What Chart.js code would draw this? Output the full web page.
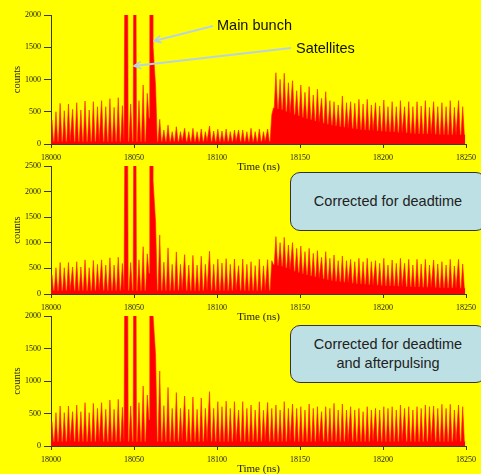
<!DOCTYPE html>
<html lang="en">
<head>
<meta charset="UTF-8">
<title>bunch purity</title>
<script src="https://cdn.jsdelivr.net/npm/chart.js@4.4.0/dist/chart.umd.min.js"></script>
<style>
  html, body { margin: 0; padding: 0; width: 481px; height: 474px; overflow: hidden; background: #ffff00; }
  canvas.panel { position: absolute; left: 0; }
  .note { position: absolute; font-family: 'Liberation Sans', Arial, sans-serif; font-size: 14.5px; color: #111; white-space: nowrap; line-height: 18px; }
  .box { position: absolute; left: 290px; width: 196px; background: #bde0e4; border: 1.5px solid #333; border-radius: 10px; box-sizing: border-box;
         display: flex; align-items: center; justify-content: center; text-align: center;
         font-family: 'Liberation Sans', Arial, sans-serif; font-size: 14.5px; color: #222; line-height: 19px; }
  svg { position: absolute; left: 0; top: 0; }
</style>
</head>
<body>
<canvas id="p1" class="panel" width="481" height="174" style="top:0px"></canvas>
<canvas id="p2" class="panel" width="481" height="174" style="top:150px"></canvas>
<canvas id="p3" class="panel" width="481" height="176" style="top:300px"></canvas>

<svg width="481" height="474">
  <defs>
    <marker id="ah" viewBox="0 0 10 10" refX="9" refY="5" markerWidth="9" markerHeight="9" markerUnits="userSpaceOnUse" orient="auto">
      <path d="M1,1 L9,5 L1,9" fill="none" stroke="#b8d4da" stroke-width="2"/>
    </marker>
  </defs>
  <line x1="213" y1="26" x2="154" y2="41" stroke="#b8d4da" stroke-width="2" marker-end="url(#ah)"/>
  <line x1="291" y1="48" x2="134" y2="66" stroke="#b8d4da" stroke-width="2" marker-end="url(#ah)"/>
</svg>
<div class="note" style="left:217px; top:16px">Main bunch</div>
<div class="note" style="left:296px; top:39px">Satellites</div>
<div class="box" style="top:172px; height:59px">Corrected for deadtime</div>
<div class="box" style="top:325px; height:58px">Corrected for deadtime<br>and afterpulsing</div>

<script>
// bunch arrival times (ns), one every RF bucket
const bunchTimes = [
  18000.5, 18003, 18005.5, 18008, 18010.5, 18013, 18015.5, 18018, 18020.5, 18023,
  18025.5, 18028, 18030.5, 18033, 18035.5, 18038, 18040.5, 18043, 18045.5, 18048,
  18050.5, 18053, 18055.5, 18058, 18060.5, 18063, 18065.5, 18068, 18070.5, 18073,
  18075.5, 18078, 18080.5, 18083, 18085.5, 18088, 18090.5, 18093, 18095.5, 18098,
  18100.5, 18103, 18105.5, 18108, 18110.5, 18113, 18115.5, 18118, 18120.5, 18123,
  18125.5, 18128, 18130.5, 18133, 18135.5, 18138, 18140.5, 18143, 18145.5, 18148,
  18150.5, 18153, 18155.5, 18158, 18160.5, 18163, 18165.5, 18168, 18170.5, 18173,
  18175.5, 18178, 18180.5, 18183, 18185.5, 18188, 18190.5, 18193, 18195.5, 18198,
  18200.5, 18203, 18205.5, 18208, 18210.5, 18213, 18215.5, 18218, 18220.5, 18223,
  18225.5, 18228, 18230.5, 18233, 18235.5, 18238, 18240.5, 18243, 18245.5, 18248
];

// raw histogram: peak counts per bucket and the floor right after it
const rawPeaks = [
  372, 500, 630, 516, 620, 537, 640, 527, 666, 527,
  656, 578, 672, 578, 703, 568, 718, 594, 8000, 620,
  8000, 672, 915, 785, 40000, 900, 382, 217, 294, 191,
  268, 191, 243, 191, 243, 191, 232, 191, 279, 201,
  227, 201, 232, 191, 217, 217, 217, 191, 243, 191,
  232, 191, 232, 450, 1105, 1003, 1096, 950, 981, 826,
  915, 801, 889, 760, 848, 708, 811, 672, 656, 605,
  744, 640, 656, 630, 692, 620, 692, 605, 640, 589,
  682, 578, 656, 578, 672, 578, 656, 579, 656, 589,
  672, 568, 656, 579, 640, 579, 672, 568, 672, 579
];
const rawValleys = [
  40, 40, 40, 40, 40, 40, 40, 40, 40, 40,
  40, 40, 40, 40, 40, 40, 40, 40, 40, 40,
  40, 40, 40, 400, 1500, 40, 40, 40, 40, 40,
  40, 40, 40, 40, 40, 40, 40, 40, 40, 40,
  40, 40, 40, 40, 40, 40, 40, 40, 40, 40,
  40, 40, 40, 560, 545, 530, 505, 475, 455, 435,
  415, 395, 375, 355, 338, 320, 305, 292, 280, 268,
  258, 248, 240, 232, 225, 218, 212, 206, 200, 196,
  192, 190, 185, 180, 176, 172, 168, 164, 160, 156,
  154, 152, 150, 148, 146, 145, 144, 142, 141, 140
];

// corrected for deadtime
const deadPeaks = [
  374, 513, 615, 513, 615, 528, 630, 528, 667, 513,
  656, 579, 667, 564, 707, 564, 718, 595, 9000, 615,
  9000, 667, 923, 784, 50000, 1400, 1153, 620, 900, 579,
  822, 579, 769, 564, 754, 564, 738, 579, 836, 579,
  682, 605, 690, 579, 682, 553, 682, 579, 631, 554,
  680, 550, 670, 650, 1120, 1003, 1107, 957, 1003, 892,
  937, 827, 892, 794, 846, 716, 827, 697, 762, 651,
  742, 651, 677, 631, 697, 631, 697, 631, 651, 599,
  697, 566, 664, 599, 697, 599, 677, 566, 677, 586,
  677, 566, 664, 586, 631, 566, 677, 547, 677, 586
];
const deadValleys = [
  70, 70, 70, 70, 70, 70, 70, 70, 70, 70,
  70, 70, 70, 70, 70, 70, 70, 70, 70, 70,
  70, 70, 70, 400, 2200, 70, 70, 70, 70, 70,
  70, 70, 70, 70, 70, 70, 70, 70, 70, 70,
  70, 70, 70, 70, 70, 70, 70, 70, 70, 70,
  70, 70, 70, 570, 560, 540, 510, 475, 445, 420,
  395, 372, 350, 330, 310, 292, 276, 262, 250, 240,
  230, 220, 210, 202, 195, 188, 182, 176, 171, 166,
  162, 158, 154, 150, 147, 144, 141, 138, 135, 132,
  130, 127, 125, 122, 120, 118, 116, 114, 112, 110
];

// corrected for deadtime and afterpulsing
const fullPeaks = [
  374, 513, 615, 513, 615, 528, 630, 528, 667, 513,
  656, 579, 667, 564, 707, 564, 718, 595, 9000, 615,
  9000, 667, 923, 784, 50000, 1400, 1153, 620, 900, 579,
  822, 579, 769, 564, 754, 564, 738, 579, 836, 579,
  682, 605, 690, 579, 682, 553, 682, 579, 631, 554,
  680, 550, 670, 579, 631, 554, 682, 579, 646, 579,
  605, 554, 646, 579, 605, 528, 605, 579, 656, 554,
  646, 554, 605, 554, 579, 528, 605, 554, 579, 554,
  605, 579, 605, 554, 631, 579, 605, 554, 605, 579,
  631, 605, 615, 579, 641, 579, 641, 554, 631, 605
];
const fullValleys = [
  70, 70, 70, 70, 70, 70, 70, 70, 70, 70,
  70, 70, 70, 70, 70, 70, 70, 70, 70, 70,
  70, 70, 70, 400, 2000, 70, 70, 70, 70, 70,
  70, 70, 70, 70, 70, 70, 70, 70, 70, 70,
  70, 70, 70, 70, 70, 70, 70, 70, 70, 70,
  70, 70, 70, 70, 70, 70, 70, 70, 70, 70,
  70, 70, 70, 70, 70, 70, 70, 70, 70, 70,
  70, 70, 70, 70, 70, 70, 70, 70, 70, 70,
  70, 70, 70, 70, 70, 70, 70, 70, 70, 70,
  70, 70, 70, 70, 70, 70, 70, 70, 70, 70
];

const timeTicks = [18000, 18050, 18100, 18150, 18200, 18250];
const countTicks2000 = [0, 500, 1000, 1500, 2000];
const countTicks2500 = [0, 500, 1000, 1500, 2000, 2500];

const axisColor = '#3a3a2a';
const serif = "'Liberation Serif', 'DejaVu Serif', serif";

// each bucket: peak, then a short floor before the next one
function trace(peaks, valleys) {
  const pts = [{ x: 18000, y: valleys[0] }];
  peaks.forEach((p, i) => {
    pts.push({ x: bunchTimes[i], y: p });
    pts.push({ x: bunchTimes[i] + 1.0, y: valleys[i] });
    pts.push({ x: bunchTimes[i] + 1.5, y: valleys[i] });
  });
  return pts;
}

function makePanel(id, peaks, valleys, yTicks, padTop, xHeight) {
  new Chart(document.getElementById(id), {
    type: 'line',
    data: {
      datasets: [{
        data: trace(peaks, valleys),
        borderColor: '#ff1a00',
        backgroundColor: '#ff0000',
        borderWidth: 0.6,
        pointRadius: 0,
        tension: 0,
        fill: 'origin'
      }]
    },
    options: {
      responsive: false,
      animation: false,
      events: [],
      layout: { padding: { top: padTop, right: 13, bottom: 0, left: 0 } },
      plugins: { legend: { display: false }, tooltip: { enabled: false } },
      scales: {
        x: {
          type: 'linear', min: 18000, max: 18250,
          afterBuildTicks: s => { s.ticks = timeTicks.map(v => ({ value: v })); },
          afterFit: s => { s.height = xHeight; },
          grid: { drawOnChartArea: false, tickLength: 4, color: axisColor },
          border: { color: axisColor, width: 1 },
          ticks: { padding: 5, maxRotation: 0, autoSkip: false, color: '#222',
                   font: { family: serif, size: 8 }, callback: v => String(v) },
          title: { display: true, text: 'Time (ns)', padding: 0, color: '#222',
                   font: { family: serif, size: 11 } }
        },
        y: {
          min: 0, max: yTicks[yTicks.length - 1],
          afterBuildTicks: s => { s.ticks = yTicks.map(v => ({ value: v })); },
          afterFit: s => { s.width = 51; },
          grid: { drawOnChartArea: false, tickLength: 7, color: axisColor },
          border: { color: axisColor, width: 1 },
          ticks: { padding: 3, color: '#222', font: { family: serif, size: 8 }, callback: v => String(v) },
          title: { display: true, text: 'counts', padding: { top: 11, bottom: 0 }, color: '#222',
                   font: { family: serif, size: 10.5 } }
        }
      }
    }
  });
}

makePanel('p1', rawPeaks, rawValleys, countTicks2000, 15, 30);
makePanel('p2', deadPeaks, deadValleys, countTicks2500, 16, 30);
makePanel('p3', fullPeaks, fullValleys, countTicks2000, 16, 30);
</script>
</body>
</html>
